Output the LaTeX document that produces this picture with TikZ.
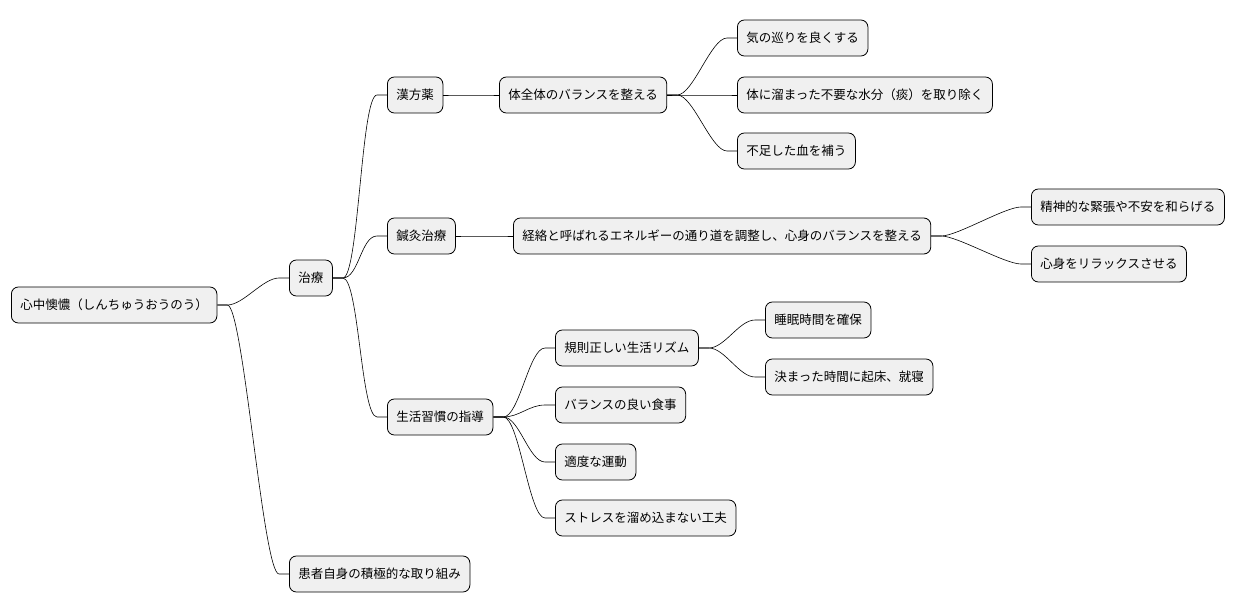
\documentclass[tikz,border=0pt]{standalone}
\usepackage{fontspec}
\setmainfont{Noto Sans CJK JP}
\begin{document}
\begin{tikzpicture}[x=1pt,y=-1pt,
  mm/.style={draw=black,fill=black!6,rounded corners=7pt,minimum height=36pt,inner xsep=9pt,anchor=west,font=\fontsize{12.5}{14}\selectfont,line width=0.8pt},
  ln/.style={line width=0.6pt}]
\useasboundingbox (0,0) rectangle (1258,612);
\node[mm] (r) at (11,305) {心中懊憹（しんちゅうおうのう）};
\node[mm] (t) at (289,278) {治療};
\node[mm] (k) at (289,574) {患者自身の積極的な取り組み};
\node[mm] (a) at (387,95) {漢方薬};
\node[mm] (b) at (387,236) {鍼灸治療};
\node[mm] (c) at (387,417) {生活習慣の指導};
\node[mm] (a1) at (499,95) {体全体のバランスを整える};
\node[mm] (a11) at (737,38) {気の巡りを良くする};
\node[mm] (a12) at (737,95) {体に溜まった不要な水分（痰）を取り除く};
\node[mm] (a13) at (737,151) {不足した血を補う};
\node[mm] (b1) at (513,236) {経絡と呼ばれるエネルギーの通り道を調整し、心身のバランスを整える};
\node[mm] (b11) at (1031,207) {精神的な緊張や不安を和らげる};
\node[mm] (b12) at (1031,264) {心身をリラックスさせる};
\node[mm] (c1) at (555,348) {規則正しい生活リズム};
\node[mm] (c11) at (765,320) {睡眠時間を確保};
\node[mm] (c12) at (765,377) {決まった時間に起床、就寝};
\node[mm] (c2) at (555,405) {バランスの良い食事};
\node[mm] (c3) at (555,462) {適度な運動};
\node[mm] (c4) at (555,518) {ストレスを溜め込まない工夫};
\foreach \p/\c in {r/t,r/k,t/a,t/b,t/c,a/a1,a1/a11,a1/a12,a1/a13,b/b1,b1/b11,b1/b12,c/c1,c1/c11,c1/c12,c/c2,c/c3,c/c4}
  \draw[ln] (\p.east) -- ++(10,0) .. controls +(16,0) and ([xshift=-26]\c.west) .. ([xshift=-10]\c.west) -- (\c.west);
\end{tikzpicture}
\end{document}
